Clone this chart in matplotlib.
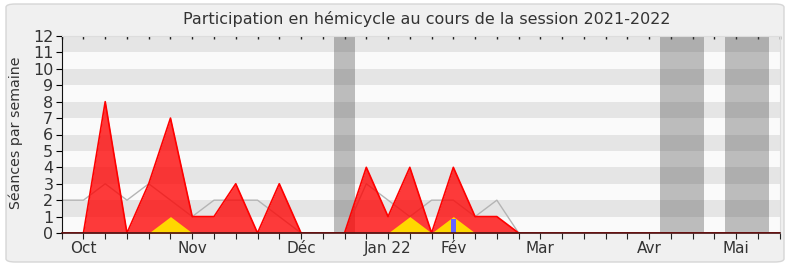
import matplotlib
matplotlib.use("Agg")
import matplotlib.pyplot as plt
from matplotlib.patches import FancyBboxPatch
import numpy as np

weeks = list(range(34))
presence = [0, 0, 8, 0, 3, 7, 1, 1, 3, 0, 3, 0, 0, 0, 4, 1, 4, 0, 4, 1, 1, 0,
            0, 0, 0, 0, 0, 0, 0, 0, 0, 0, 0, 0]
median = [2, 2, 3, 2, 3, 2, 1, 2, 2, 2, 1, 0, 0, 0, 3, 2, 1, 2, 2, 1, 2, 0,
          0, 0, 0, 0, 0, 0, 0, 0, 0, 0, 0, 0]
interventions = [0, 0, 0, 0, 0, 1, 0, 0, 0, 0, 0, 0, 0, 0, 0, 0, 1, 0, 1, 0, 0, 0,
                 0, 0, 0, 0, 0, 0, 0, 0, 0, 0, 0, 0]
question_weeks = [18]
question_values = [0.85]
vacances = [(12.5, 13.5), (27.5, 29.5), (30.5, 32.5)]
month_ticks = [1, 6, 11, 15, 18, 22, 27, 31]
month_labels = ["Oct", "Nov", "Déc", "Jan 22", "Fév", "Mar", "Avr", "Mai"]

fig = plt.figure(figsize=(7.9, 2.67), dpi=100, facecolor="white")
frame = FancyBboxPatch((6 / 790, 5 / 267), 778 / 790, 258 / 267,
                       boxstyle="round,pad=0,rounding_size=0.012",
                       transform=fig.transFigure, facecolor="#f0f0f0",
                       edgecolor="#d6d6d6", linewidth=1.0, zorder=-10)
fig.patches.append(frame)

ax = fig.add_axes([61.7 / 790, 34 / 267, 718 / 790, 197 / 267])
ax.set_facecolor("#fafafa")
ax.set_xlim(0, 33)
ax.set_ylim(0, 12)

for k in range(1, 12, 2):
    ax.axhspan(k, k + 1, color="#e5e5e5", lw=0, zorder=0)
for a, b in vacances:
    ax.axvspan(a, b, color="#464646", alpha=0.34, lw=0, zorder=1)

ax.plot(weeks, median, color="#b4b4b4", lw=1.0, zorder=2)
ax.fill_between(weeks, presence, 0, color="#ff0000", alpha=0.77, lw=0, zorder=3)
ax.plot(weeks, presence, color="#ff0000", lw=1.2, zorder=4)
ax.fill_between(weeks, interventions, 0, color="#ffd700", lw=0, zorder=5)
ax.bar(question_weeks, question_values, width=0.26, color="#6464ff", zorder=6)

labels = [""] * len(weeks)
for t, l in zip(month_ticks, month_labels):
    labels[t] = l
ax.set_xticks(weeks)
ax.set_xticklabels(labels)
ax.tick_params(axis="x", which="major", direction="out", length=4, width=0.8,
               color="#222222", top=False, pad=1.5, labelsize=11,
               labelcolor="#333333")
ax.set_yticks(range(13))
ax.tick_params(axis="y", direction="out", length=4, width=0.8, labelsize=11.5,
               labelcolor="#333333", pad=2)
ax.set_ylabel("Séances par semaine", fontsize=10.2, color="#333333")
ax.yaxis.set_label_coords(-39 / 718, 0.51)

ax2 = ax.secondary_xaxis("top")
ax2.set_xticks(weeks)
ax2.set_xticklabels([])
ax2.tick_params(direction="in", length=2, width=1, color="#222222")
ax2.spines["top"].set_visible(False)

for s in ["top", "right"]:
    ax.spines[s].set_color("#dddddd")
    ax.spines[s].set_linewidth(0.8)
ax.spines["left"].set_color("#111111")
ax.spines["bottom"].set_color("#4a1010")
ax.spines["bottom"].set_linewidth(1.2)
ax.spines["bottom"].set_zorder(7)

fig.text(427 / 790, 1 - 19 / 267, "Participation en hémicycle au cours de la session 2021-2022",
         ha="center", va="center", fontsize=11.5, color="#333333")

fig.savefig("out.png", dpi=100, facecolor=fig.get_facecolor())
